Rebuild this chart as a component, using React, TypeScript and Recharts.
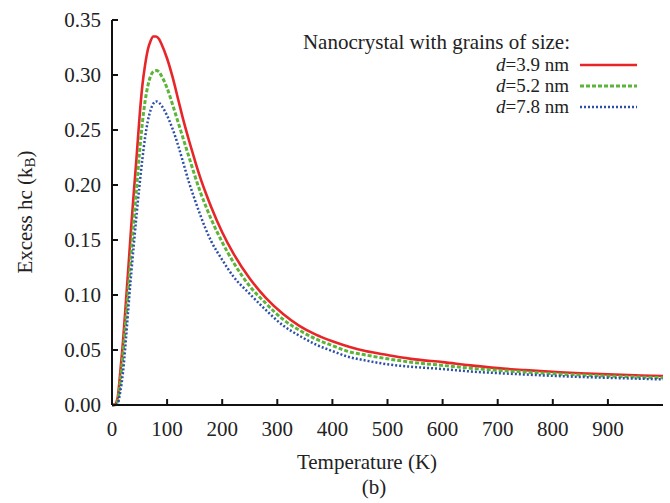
import React from 'react';
import { LineChart, Line, XAxis, YAxis } from 'recharts';

const temps = [
  0, 5, 10, 15, 20, 25, 30, 35, 40, 45, 50, 55, 60, 65, 70, 75, 80, 85, 90, 100,
  110, 120, 130, 140, 150, 160, 170, 180, 200, 220, 250, 280, 310, 340, 370, 400,
  430, 460, 500, 550, 600, 650, 700, 750, 800, 850, 900, 950, 1000,
];

const d39 = [
  0, 0.0005, 0.006, 0.03, 0.058, 0.092, 0.127, 0.163, 0.196, 0.228, 0.262, 0.29, 0.309, 0.323, 0.331, 0.335, 0.335, 0.333, 0.328, 0.315,
  0.298, 0.278, 0.258, 0.24, 0.223, 0.207, 0.193, 0.18, 0.157, 0.138, 0.115, 0.097, 0.083, 0.072, 0.064, 0.058,
  0.053, 0.049, 0.0455, 0.0415, 0.039, 0.036, 0.0335, 0.0317, 0.0302, 0.0288, 0.0278, 0.027, 0.0263,
];

const d52 = [
  0, 0, 0.003, 0.022, 0.047, 0.077, 0.108, 0.139, 0.17, 0.2, 0.23, 0.256, 0.276, 0.29, 0.299, 0.303, 0.304, 0.303, 0.299, 0.288,
  0.273, 0.257, 0.241, 0.225, 0.209, 0.194, 0.181, 0.169, 0.148, 0.13, 0.108, 0.092, 0.078, 0.068, 0.06, 0.054,
  0.0485, 0.0455, 0.042, 0.0385, 0.036, 0.0335, 0.0315, 0.03, 0.0285, 0.0273, 0.0263, 0.0255, 0.0248,
];

const d78 = [
  0, 0, 0.001, 0.012, 0.03, 0.058, 0.09, 0.12, 0.148, 0.175, 0.2, 0.223, 0.243, 0.258, 0.268, 0.274, 0.276, 0.275, 0.272, 0.263,
  0.251, 0.236, 0.219, 0.202, 0.187, 0.173, 0.16, 0.149, 0.132, 0.117, 0.101, 0.086, 0.0725, 0.063, 0.055, 0.049,
  0.0437, 0.0405, 0.037, 0.0345, 0.0327, 0.0305, 0.029, 0.0277, 0.0265, 0.0255, 0.0247, 0.024, 0.0233,
];

const xTicks = [0, 100, 200, 300, 400, 500, 600, 700, 800, 900];
const yTicks = [0, 0.05, 0.1, 0.15, 0.2, 0.25, 0.3, 0.35];

const series = [
  { key: 'd39', label: '3.9 nm', color: '#e8262a', width: 2.6, dash: undefined as string | undefined },
  { key: 'd52', label: '5.2 nm', color: '#5cb53a', width: 3, dash: '4 2' },
  { key: 'd78', label: '7.8 nm', color: '#2e4fa8', width: 2.5, dash: '2 2' },
];

const data = temps.map((T, i) => ({ T, d39: d39[i], d52: d52[i], d78: d78[i] }));

const font = "'Liberation Serif', 'Times New Roman', serif";
const tickStyle = { fontSize: 21, fill: '#222', fontFamily: font };

export default function App() {
  return (
    <div style={{ position: 'absolute', left: 0, top: 0, width: 670, height: 503, background: '#fff' }}>
      <LineChart width={670} height={503} data={data} margin={{ top: 20, right: 7, bottom: 0, left: 0 }}>
        <XAxis
          dataKey="T"
          type="number"
          domain={[0, 1000]}
          ticks={xTicks}
          height={98}
          axisLine={{ stroke: '#111', strokeWidth: 2 }}
          tickLine={{ stroke: '#111', strokeWidth: 2 }}
          tickSize={-6}
          tickMargin={22}
          tick={tickStyle}
        />
        <XAxis
          xAxisId="top"
          orientation="top"
          type="number"
          domain={[0, 1000]}
          ticks={xTicks}
          height={0}
          axisLine={{ stroke: '#111', strokeWidth: 2 }}
          tickLine={{ stroke: '#111', strokeWidth: 2 }}
          tickSize={-6}
          tick={false}
        />
        <YAxis
          type="number"
          domain={[0, 0.35]}
          ticks={yTicks}
          width={112}
          axisLine={{ stroke: '#111', strokeWidth: 2 }}
          tickLine={{ stroke: '#111', strokeWidth: 2 }}
          tickSize={-6}
          tickMargin={17}
          tick={tickStyle}
          tickFormatter={(v: number) => v.toFixed(2)}
        />
        <YAxis
          yAxisId="right"
          orientation="right"
          type="number"
          domain={[0, 0.35]}
          ticks={yTicks}
          width={0}
          axisLine={{ stroke: '#111', strokeWidth: 2 }}
          tickLine={{ stroke: '#111', strokeWidth: 2 }}
          tickSize={-6}
          tick={false}
        />
        {series.map((s) => (
          <Line
            key={s.key}
            dataKey={s.key}
            type="monotone"
            stroke={s.color}
            strokeWidth={s.width}
            strokeDasharray={s.dash}
            dot={false}
            isAnimationActive={false}
          />
        ))}
      </LineChart>
      <svg width={670} height={503} style={{ position: 'absolute', left: 0, top: 0, pointerEvents: 'none' }}>
        <g fontFamily={font} fontSize={21} fill="#222">
          <text x={27} y={212} textAnchor="middle" dominantBaseline="middle" transform="rotate(-90 27 212)">
            Excess hc (k<tspan fontSize={15} dy={5}>B</tspan><tspan dy={-5}>)</tspan>
          </text>
          <text x={367} y={469} textAnchor="middle">Temperature (K)</text>
          <text x={374} y={494} textAnchor="middle">(b)</text>
          <text x={570} y={49} textAnchor="end">Nanocrystal with grains of size:</text>
          {series.map((s, i) => (
            <g key={s.key}>
              <text x={569} y={71 + i * 21} textAnchor="end" fontSize={19}>
                <tspan fontStyle="italic">d</tspan>={s.label}
              </text>
              <line x1={580} x2={637} y1={65 + i * 21} y2={65 + i * 21} stroke={s.color} strokeWidth={s.width} strokeDasharray={s.dash} />
            </g>
          ))}
        </g>
      </svg>
    </div>
  );
}
